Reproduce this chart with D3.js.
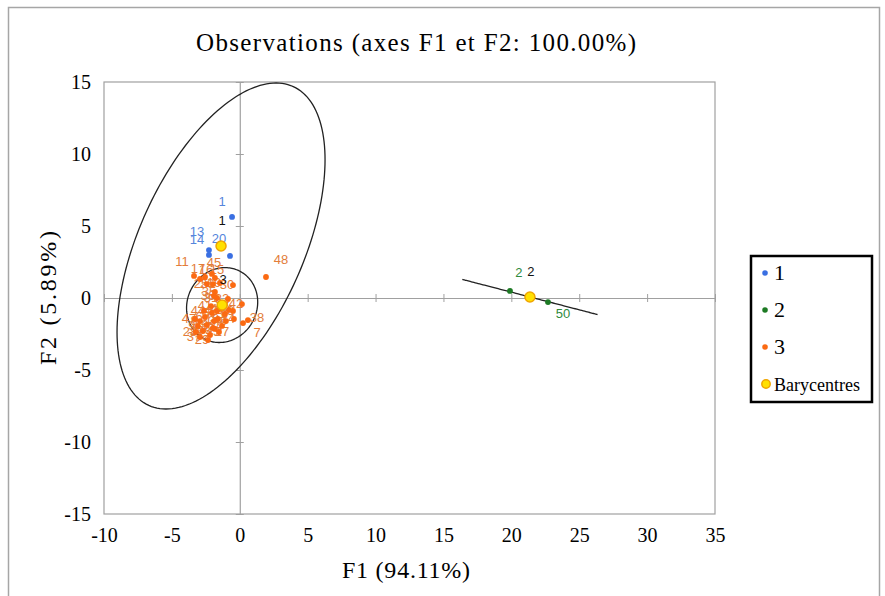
<!DOCTYPE html>
<html><head><meta charset="utf-8">
<script src="https://cdn.jsdelivr.net/npm/d3@7"></script>
<style>body{margin:0;background:#fff}</style></head>
<body><svg id="c" width="885" height="596"></svg>
<script>
// ---------- data ----------
const obsLabels = ["1","2","3","4","5","6","7","8","9","10","11","12","13","14","15","16","17","18","19","20","21","22","23","24","25","26","27","28","29","30","31","32","33","34","35","36","37","38","39","40","41","42","43","44","45","46","47","48","49","50"];
const obsClass  = [1,2,3,3,3,3,3,3,3,3,3,3,1,1,3,3,3,3,3,1,3,3,3,3,3,3,3,3,3,3,3,3,3,3,3,3,3,3,3,3,3,3,3,3,3,3,3,3,3,2];
const obsF1 = [-0.57,19.90,-1.09,-1.46,-2.05,-2.56,0.24,-2.93,-3.08,-2.71,-3.37,-2.19,-2.27,-2.27,-1.83,-2.56,-2.93,-1.61,-1.46,-0.72,-1.09,-2.42,-1.90,-1.31,-2.42,-1.97,-1.83,-3.23,-2.34,-0.50,-1.68,-0.87,-0.50,-0.43,-1.83,-1.90,-2.93,0.60,-0.80,-1.68,-2.12,0.16,-1.53,-2.64,-2.05,-1.02,-3.30,1.93,-1.97,22.70];
const obsF2 = [5.63,0.49,-0.42,-0.76,-1.04,-1.32,-1.74,-1.60,-1.94,-2.29,1.53,-2.57,3.33,2.99,1.39,1.46,1.32,-1.46,1.04,2.92,-1.11,-1.88,-1.60,-1.94,0.97,0.97,-2.15,-2.36,-2.92,0.90,0.00,-0.07,-0.90,-1.46,0.42,0.14,-2.71,-1.53,-0.83,-0.90,-0.56,-0.42,-2.36,-0.90,1.67,-1.60,-1.46,1.46,-2.08,-0.28];

const baryClass = [1,2,3];
const baryF1 = [-1.38,21.37,-1.30];
const baryF2 = [3.61,0.07,-0.49];

// confidence ellipses (std in F1, std in F2, correlation), centred on barycentres
const ellSx  = [7.66,4.98,2.62];
const ellSy  = [11.32,1.22,2.60];
const ellRho = [0.529,-1,0.08];

const xTicks = [-10,-5,0,5,10,15,20,25,30,35];
const yTicks = [-15,-10,-5,0,5,10,15];
const legendItems = ["1","2","3","Barycentres"];

// ---------- layout / style ----------
const L = {left:104, right:715, top:82, bottom:514};
const ptColor  = {1:"#3a6fe2", 2:"#1d7a24", 3:"#fb6a12"};
const lblColor = {1:"#5585dc", 2:"#2f8a3c", 3:"#e37d3a"};
const labelOffsets = {
  "1":[-10,-11],"13":[-12,-14],"14":[-12,-11],"20":[-11,-13],"11":[-12,-10],
  "48":[15,-13],"38":[9,2],"7":[14,14],"2":[9,-14],"50":[15,16],"27":[7,7],
  "15":[2,-4],"17":[-2,-6],"16":[1,-3],"45":[2,-7]
};
const defaultOffset = [-6,4];

const svg = d3.select("#c");
const x = d3.scaleLinear().domain([-10,35]).range([L.left, L.right]);
const y = d3.scaleLinear().domain([-15,15]).range([L.bottom, L.top]);
const serif = '"Liberation Serif", "Times New Roman", serif';
const sans = '"Liberation Sans", Arial, sans-serif';

// outer frame
svg.append("rect").attr("x",8.5).attr("y",7.5).attr("width",871).attr("height",600)
  .attr("fill","none").attr("stroke","#a6a6a6").attr("stroke-width",1.5);

// plot frame
svg.append("rect").attr("x",L.left).attr("y",L.top).attr("width",L.right-L.left).attr("height",L.bottom-L.top)
  .attr("fill","none").attr("stroke","#a0a0a0").attr("stroke-width",1.2);

// zero axes with cross ticks
const gx = svg.append("g").attr("transform",`translate(0,${y(0)})`)
  .call(d3.axisBottom(x).tickValues(xTicks).tickSize(0).tickFormat(""));
gx.select(".domain").attr("stroke","#a0a0a0").attr("stroke-width",1.2);
gx.selectAll(".tick").append("line").attr("y1",-4).attr("y2",4).attr("stroke","#a0a0a0");
const gy = svg.append("g").attr("transform",`translate(${x(0)},0)`)
  .call(d3.axisLeft(y).tickValues(yTicks).tickSize(0).tickFormat(""));
gy.select(".domain").attr("stroke","#a0a0a0").attr("stroke-width",1.2);
gy.selectAll(".tick").append("line").attr("x1",-4).attr("x2",4).attr("stroke","#a0a0a0");

// tick labels (outside frame)
const ax = svg.append("g").attr("transform",`translate(0,${L.bottom})`)
  .call(d3.axisBottom(x).tickValues(xTicks).tickSize(0).tickPadding(14).tickFormat(d=>String(d)));
ax.select(".domain").remove();
ax.attr("font-family",serif).attr("font-size",20);
ax.selectAll("text").attr("fill","#000");
const ay = svg.append("g").attr("transform",`translate(${L.left},0)`)
  .call(d3.axisLeft(y).tickValues(yTicks).tickSize(0).tickPadding(13).tickFormat(d=>String(d)));
ay.select(".domain").remove();
ay.attr("font-family",serif).attr("font-size",20);
ay.selectAll("text").attr("fill","#000");

// titles
svg.append("text").attr("x",416).attr("y",51).attr("text-anchor","middle")
  .attr("font-family",serif).attr("font-size",25).attr("textLength",440).attr("lengthAdjust","spacing")
  .text("Observations (axes F1 et F2: 100.00%)");
svg.append("text").attr("x",406).attr("y",578).attr("text-anchor","middle")
  .attr("font-family",serif).attr("font-size",24).attr("textLength",128).attr("lengthAdjust","spacing")
  .text("F1 (94.11%)");
svg.append("text").attr("transform","translate(56,298) rotate(-90)").attr("text-anchor","middle")
  .attr("font-family",serif).attr("font-size",24).attr("textLength",134).attr("lengthAdjust","spacing")
  .text("F2 (5.89%)");

// ellipses
const line = d3.line().x(d=>x(d[0])).y(d=>y(d[1]));
baryClass.forEach((g,i)=>{
  const pts = d3.range(0,361,2).map(a=>{
    const t = a*Math.PI/180;
    const s = Math.sqrt(Math.max(0,1-ellRho[i]*ellRho[i]));
    return [baryF1[i]+ellSx[i]*Math.cos(t), baryF2[i]+ellSy[i]*(ellRho[i]*Math.cos(t)+s*Math.sin(t))];
  });
  svg.append("path").attr("d",line(pts)).attr("fill","none").attr("stroke","#222").attr("stroke-width",1.3);
});

// observations: labels under the points
const obs = obsLabels.map((l,i)=>({l, g:obsClass[i], f1:obsF1[i], f2:obsF2[i]}));
svg.append("g").selectAll("text").data(obs).join("text")
  .attr("x",d=>x(d.f1)+(labelOffsets[d.l]||defaultOffset)[0])
  .attr("y",d=>y(d.f2)+(labelOffsets[d.l]||defaultOffset)[1])
  .attr("text-anchor","middle").attr("font-family",sans).attr("font-size",13)
  .attr("fill",d=>lblColor[d.g]).text(d=>d.l);
svg.append("g").selectAll("circle").data(obs).join("circle")
  .attr("cx",d=>x(d.f1)).attr("cy",d=>y(d.f2)).attr("r",2.9).attr("fill",d=>ptColor[d.g]);

// barycentres
baryClass.forEach((g,i)=>{
  svg.append("text").attr("x",x(baryF1[i])+1).attr("y",y(baryF2[i])-21).attr("text-anchor","middle")
    .attr("font-family",sans).attr("font-size",13).attr("fill","#111").text(String(g));
});
svg.append("g").selectAll("circle").data(baryClass).join("circle")
  .attr("cx",(d,i)=>x(baryF1[i])).attr("cy",(d,i)=>y(baryF2[i])).attr("r",5)
  .attr("fill","#ffe000").attr("stroke","#f0a500").attr("stroke-width",1.5);

// legend
const lg = svg.append("g");
lg.append("rect").attr("x",751).attr("y",256).attr("width",121).attr("height",146)
  .attr("fill","#fff").attr("stroke","#000").attr("stroke-width",2.5);
legendItems.forEach((t,i)=>{
  const cy = 273 + i*37;
  if (i<3) lg.append("circle").attr("cx",765).attr("cy",cy).attr("r",2.8).attr("fill",ptColor[i+1]);
  else lg.append("circle").attr("cx",766).attr("cy",cy).attr("r",4.2).attr("fill","#ffe000").attr("stroke","#f0a500").attr("stroke-width",1.5);
  lg.append("text").attr("x",774).attr("y",cy+7).attr("font-family",serif).attr("font-size",i<3?22:18)
    .attr("fill","#000").text(t);
});
</script></body></html>
